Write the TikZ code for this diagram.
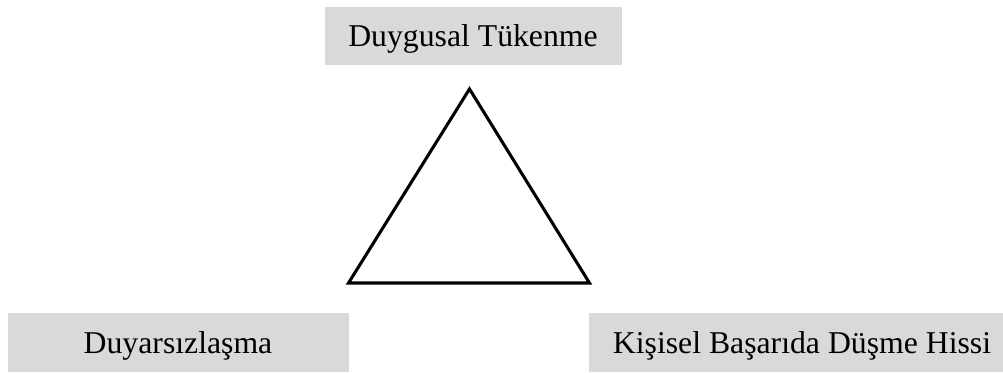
\documentclass[tikz,border=0pt]{standalone}
\usepackage{fontspec}
\setmainfont{Liberation Serif}
\begin{document}
\begin{tikzpicture}[x=0.75pt,y=-0.75pt,
  greybox/.style={fill=boxgrey,draw=none,inner sep=0pt,outer sep=0pt,anchor=north west},
  boxlabel/.style={anchor=base,inner sep=0pt,font=\fontsize{23.8}{28}\selectfont},
  triline/.style={draw=black,line width=2.3pt,line join=miter}]
\definecolor{boxgrey}{HTML}{D9D9D9}
\useasboundingbox (0,0) rectangle (1003,372);
% grey label panels
\path[greybox] (325,7) rectangle (622,65);
\path[greybox] (8,313) rectangle (349,372);
\path[greybox] (589,313) rectangle (1003,372);
% labels
\node[boxlabel] (top) at (473,46.5) {Duygusal Tükenme};
\node[boxlabel] (left) at (178,353) {Duyarsızlaşma};
\node[boxlabel] (right) at (802,353) {Kişisel Başarıda Düşme Hissi};
% triangle
\coordinate (apex) at (469.5,89);
\coordinate (bl) at (348.5,283);
\coordinate (br) at (589.5,283);
\draw[triline] (apex) -- (br) -- (bl) -- cycle;
\end{tikzpicture}
\end{document}
